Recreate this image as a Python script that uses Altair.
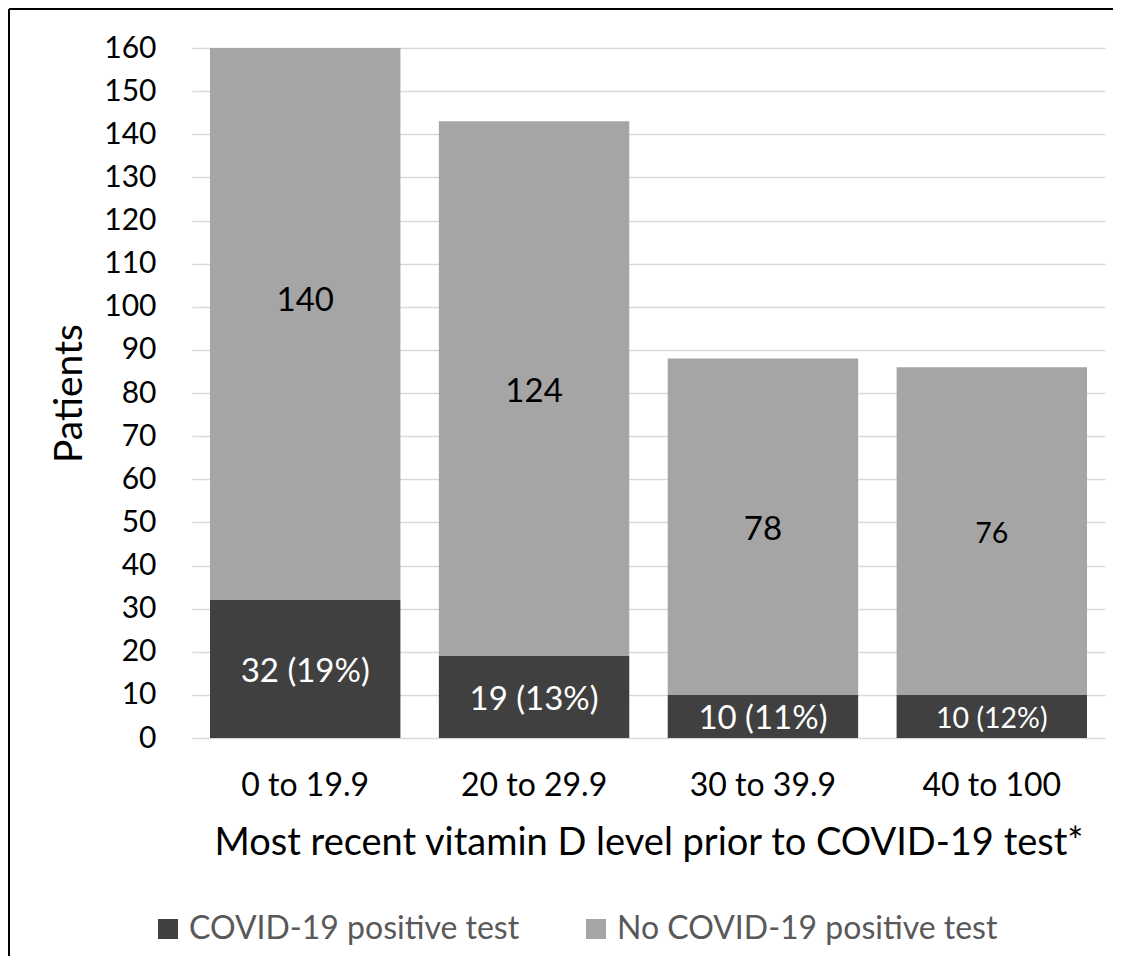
import altair as alt
import pandas as pd

categories = ["0 to 19.9", "20 to 29.9", "30 to 39.9", "40 to 100"]
positive = [32, 19, 10, 10]
negative = [140, 124, 78, 76]
series = ["COVID-19 positive test", "No COVID-19 positive test"]
y_ticks = list(range(0, 161, 10))

rows = []
for c, p, n in zip(categories, positive, negative):
    pct = round(100 * p / (p + n))
    rows.append(dict(category=c, series=series[0], y0=0, y1=p,
                     label=f"{p} ({pct}%)", mid=p / 2))
    rows.append(dict(category=c, series=series[1], y0=p, y1=p + n,
                     label=str(n), mid=p + n / 2))
df = pd.DataFrame(rows)

FONT = "Lato"

x_enc = alt.X(
    "category:N", sort=categories,
    scale=alt.Scale(paddingInner=0.168, paddingOuter=0.0786),
    axis=alt.Axis(
        title="Most recent vitamin D level prior to COVID-19 test*",
        labelAngle=0, labelFontSize=32, labelColor="#000000", labelFont=FONT,
        labelPadding=32, ticks=False, domain=False,
        titleFontSize=38, titleFontWeight="normal", titleColor="#000000",
        titleFont=FONT, titlePadding=23,
    ),
)
y_enc = alt.Y(
    "y0:Q",
    scale=alt.Scale(domain=[0, 160], nice=False),
    axis=alt.Axis(
        values=y_ticks, title="Patients", labelFontSize=30, labelColor="#000000",
        labelFont=FONT, labelPadding=36, ticks=False, domain=False,
        grid=True, gridColor="#d9d9d9", gridWidth=1.5,
        titleFontSize=39, titleFontWeight="normal", titleColor="#000000",
        titleFont=FONT, titlePadding=14,
    ),
)

bars = alt.Chart(df).mark_bar(clip=True).encode(
    x=x_enc,
    y=y_enc,
    y2="y1:Q",
    color=alt.Color(
        "series:N",
        scale=alt.Scale(domain=series, range=["#404040", "#a5a5a5"]),
        legend=alt.Legend(
            title=None, orient="none", legendX=-40, legendY=865,
            direction="horizontal", symbolType="square", symbolSize=400,
            symbolStrokeWidth=0, labelFontSize=32, labelColor="#595959",
            labelFont=FONT, columnPadding=60, labelOffset=5, labelLimit=0,
        ),
    ),
)

text = alt.Chart(df).mark_text(baseline="middle", dy=3, font=FONT).encode(
    x=alt.X("category:N", sort=categories),
    y=alt.Y("mid:Q"),
    text="label:N",
    color=alt.condition(alt.datum.series == series[0], alt.value("#ffffff"), alt.value("#000000")),
    size=alt.condition(alt.datum.category == "40 to 100", alt.value(28.5), alt.value(33)),
)

frame = pd.DataFrame({"k": [0]})
border_top = alt.Chart(frame).mark_rule(color="black", strokeWidth=2).encode(
    x=alt.value(-183), x2=alt.value(921), y=alt.value(-39)
)
border_left = alt.Chart(frame).mark_rule(color="black", strokeWidth=2).encode(
    x=alt.value(-183), y=alt.value(-39), y2=alt.value(908)
)

chart = alt.layer(bars, text, border_top, border_left).properties(
    width=913, height=690,
    padding={"left": 184, "top": 40, "right": 8, "bottom": 218},
    autosize=alt.AutoSizeParams(type="none"),
).configure_view(stroke=None)

chart.save("out.html", embed_options={"renderer": "svg", "actions": False})
